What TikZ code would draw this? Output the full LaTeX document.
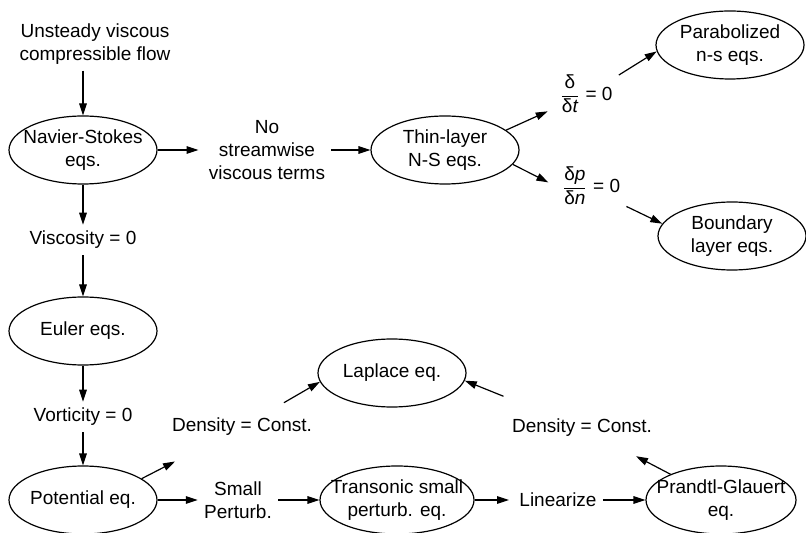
\documentclass[tikz,border=0pt]{standalone}
\usepackage{amsmath}
\usepackage{fontspec}
\setmainfont{Liberation Sans}
\usetikzlibrary{arrows.meta,shapes.geometric}

\tikzset{
  eqn/.style={draw, ellipse, line width=0.6pt, minimum width=74pt, minimum height=34pt,
    inner xsep=-12pt, inner ysep=0pt, align=center},
  cond/.style={align=center, inner sep=3pt},
  flow/.style={-{Triangle[length=6pt,width=3.8pt]}, line width=0.6pt}
}

\begin{document}
\begin{tikzpicture}[x=0.5pt,y=-0.5pt,
    every node/.style={font=\fontsize{9.5}{11.4}\selectfont}]
  \useasboundingbox (0,0) rectangle (806,533);

  % left column
  \node[cond] (flow) at (95,44) {Unsteady viscous\\compressible flow};
  \node[eqn] (ns) at (83,150) {Navier-Stokes\\eqs.};
  \node[cond] (visc) at (83,240) {Viscosity = 0};
  \node[eqn] (euler) at (83,331) {Euler eqs.};
  \node[cond] (vort) at (83,417) {Vorticity = 0};
  \node[eqn] (pot) at (83,500) {Potential eq.};

  % thin-layer branch
  \node[cond] (nostream) at (267,150) {No\\streamwise\\viscous terms};
  \node[eqn] (thin) at (445,150) {Thin-layer\\N-S eqs.};
  \node[cond] (dt) at (586,94) {$\dfrac{\text{δ}}{\text{δ}\textit{t}}$ = 0};
  \node[cond] (dpdn) at (591,186) {$\dfrac{\text{δ}\textit{p}}{\text{δ}\textit{n}}$ = 0};
  \node[eqn] (parab) at (730,45) {Parabolized\\n-s eqs.};
  \node[eqn] (bound) at (732,236) {Boundary\\layer eqs.};

  % small perturbation branch
  \node[cond] (small) at (238,500) {Small\\Perturb.};
  \node[eqn, minimum width=77pt] (tsp) at (397,500) {Transonic small\\perturb. eq.};
  \node[cond] (lin) at (558,500) {Linearize};
  \node[eqn, minimum width=75pt] (pg) at (721,500) {Prandtl-Glauert\\eq.};
  \node[cond] (dcl) at (242,427) {Density = Const.};
  \node[cond] (dcr) at (582,428) {Density = Const.};
  \node[eqn] (lap) at (392,373) {Laplace eq.};

  % arrows down the left column
  \draw[flow] (ns |- flow.south) -- (ns);
  \draw[flow] (ns) -- (visc);
  \draw[flow] (visc) -- (euler);
  \draw[flow] (euler) -- (vort);
  \draw[flow] (vort) -- (pot);

  \draw[flow, shorten >=2pt] (ns) -- (nostream);
  \draw[flow] (nostream) -- (thin);
  \draw[flow, shorten >=3pt] (thin.18) -- (dt);
  \draw[flow, shorten >=4pt] (thin.-12) -- (dpdn.west);
  \draw[flow] (dt.30) -- (parab.185);
  \draw[flow] (dpdn.-30) -- (bound.170);

  \draw[flow] (pot) -- (small);
  \draw[flow] (small) -- (tsp);
  \draw[flow, shorten >=2pt] (tsp) -- (lin);
  \draw[flow] (lin) -- (pg);

  % both ways down to Laplace
  \draw[flow, shorten >=21pt] (pot.20) -- (dcl);
  \draw[flow, shorten <=9pt] (dcl) -- (lap.187);
  \draw[flow, shorten >=14pt] (pg.153) -- (dcr);
  \draw[flow, shorten <=22pt] (dcr) -- (lap.-6);
\end{tikzpicture}
\end{document}
